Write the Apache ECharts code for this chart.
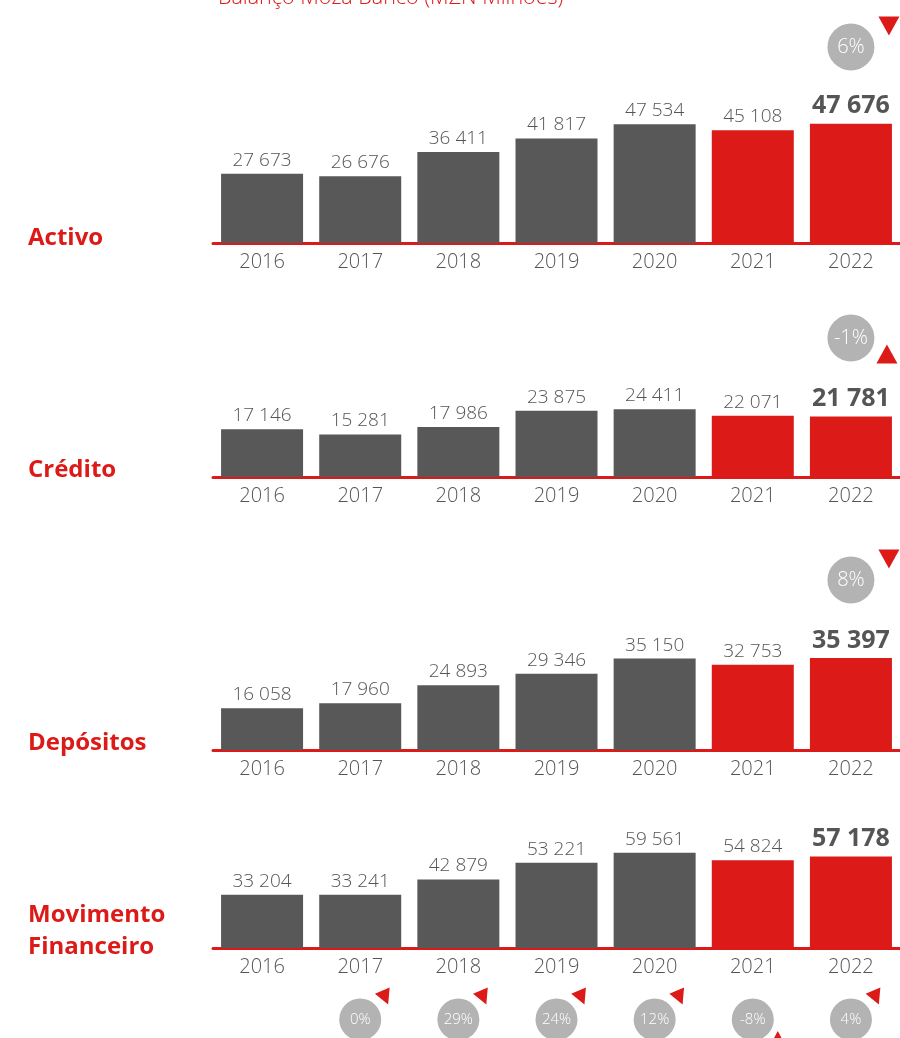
<!DOCTYPE html>
<html>
<head>
<meta charset="utf-8">
<script src="https://cdn.jsdelivr.net/npm/echarts@6/dist/echarts.min.js"></script>
<style>
html,body{margin:0;padding:0;background:#fff;}
#chart{width:900px;height:1038px;}
</style>
</head>
<body>
<div id="chart"></div>
<script>
// ---- data ----
const years = ['2016', '2017', '2018', '2019', '2020', '2021', '2022'];
const activo = [27673, 26676, 36411, 41817, 47534, 45108, 47676];
const credito = [17146, 15281, 17986, 23875, 24411, 22071, 21781];
const depositos = [16058, 17960, 24893, 29346, 35150, 32753, 35397];
const movimento = [33204, 33241, 42879, 53221, 59561, 54824, 57178];
const panelNames = ['Activo', 'Crédito', 'Depósitos', 'Movimento\nFinanceiro'];
const growth2022 = [6, -1, 8];           // Activo, Crédito, Depósitos (2022 vs 2021)
const movGrowthYears = ['2017', '2018', '2019', '2020', '2021', '2022'];
const movGrowth = [0, 29, 24, 12, -8, 4];
const titleText = 'Balanço Moza Banco (MZN Milhões)';

// ---- layout / style ----
const RED = '#dc1a17', GREY = '#585858', TXT = '#555555', BADGE = '#b3b3b3';
const FONT = '"Open Sans", "Noto Sans", sans-serif';
const GL = 213, GW = 694;
const panelLayout = [
  { top: 93, height: 150, max: 60000, labelY: 237 },
  { top: 377, height: 100, max: 36000, labelY: 469 },
  { top: 620, height: 130, max: 50000, labelY: 742 },
  { top: 852, height: 96, max: 60000, labelY: 930 }
];
const topBadgeY = [47, 338, 580];
const bottomBadgeY = 1021;

const fmt = v => String(v).replace(/\B(?=(\d{3})+(?!\d))/g, ' ');
const seriesData = [activo, credito, depositos, movimento];

const grid = [], xAxis = [], yAxis = [], series = [], graphic = [];

panelLayout.forEach((p, i) => {
  grid.push({ left: GL, width: GW, top: p.top, height: p.height });
  xAxis.push({
    type: 'category', gridIndex: i, data: years,
    axisLine: { show: true, lineStyle: { color: RED, width: 3 } },
    axisTick: { show: false },
    axisLabel: { color: TXT, fontSize: 20, fontFamily: FONT, fontWeight: 300, margin: 9 }
  });
  yAxis.push({ type: 'value', gridIndex: i, min: 0, max: p.max, show: false, splitLine: { show: false } });
  series.push({
    type: 'bar', xAxisIndex: i, yAxisIndex: i, barWidth: 82,
    data: seriesData[i].map((v, k) => {
      const last = k === years.length - 1;
      return {
        value: v,
        itemStyle: { color: k >= 5 ? RED : GREY },
        label: last ? { fontSize: 25, fontWeight: 'bold', distance: 5 } : {}
      };
    }),
    label: {
      show: true, position: 'top', distance: 4, color: TXT,
      fontSize: 19, fontWeight: 300, fontFamily: FONT,
      formatter: pr => fmt(pr.value)
    }
  });
  graphic.push({
    type: 'text', left: 28, top: p.labelY - (i === 3 ? 31 : 15),
    style: { text: panelNames[i], fill: RED, font: 'bold 24px "Open Sans", sans-serif', lineHeight: 32 }
  });
});

// badge grids (top: one per first three panels at 2022; bottom: movimento growth)
function addBadgeGrid(cy, cats, values, big) {
  const gi = grid.length;
  grid.push({ left: GL, width: GW, top: cy - 20, height: 40 });
  xAxis.push({ type: 'category', gridIndex: gi, data: years, show: false });
  yAxis.push({ type: 'value', gridIndex: gi, min: 0, max: 1, show: false });
  series.push({
    type: 'scatter', xAxisIndex: gi, yAxisIndex: gi, clip: false, z: 3,
    symbol: 'circle', symbolSize: big ? 47 : 42,
    itemStyle: { color: BADGE, opacity: 1 },
    data: cats.map((c, k) => [c, 0.5, values[k]]),
    label: {
      show: true, position: 'inside', color: '#fff', fontFamily: FONT, fontWeight: 300,
      fontSize: big ? 20 : 15, formatter: pr => pr.data[2] + '%'
    },
    emphasis: { disabled: true }
  });
  series.push({
    type: 'scatter', xAxisIndex: gi, yAxisIndex: gi, clip: false, z: 4,
    symbol: 'triangle',
    itemStyle: { color: RED, opacity: 1 },
    data: cats.map((c, k) => {
      const up = values[k] < 0;
      return {
        value: [c, 0.5],
        symbolSize: big ? [21, 19] : [16, 15],
        symbolRotate: up ? 0 : (big ? 180 : 203),
        symbolOffset: up ? (big ? [36, 16] : [25, 19]) : (big ? [38, -21] : [25, -22])
      };
    }),
    emphasis: { disabled: true }
  });
}
growth2022.forEach((g, i) => addBadgeGrid(topBadgeY[i], ['2022'], [g], true));
addBadgeGrid(bottomBadgeY, movGrowthYears, movGrowth, false);

graphic.push({
  type: 'text', left: 218, top: -13,
  style: { text: titleText, fill: RED, font: '300 21.5px "Open Sans", sans-serif' }
});

const chart = echarts.init(document.getElementById('chart'));
chart.setOption({
  animation: false,
  backgroundColor: '#fff',
  grid, xAxis, yAxis, series, graphic
});
</script>
</body>
</html>
